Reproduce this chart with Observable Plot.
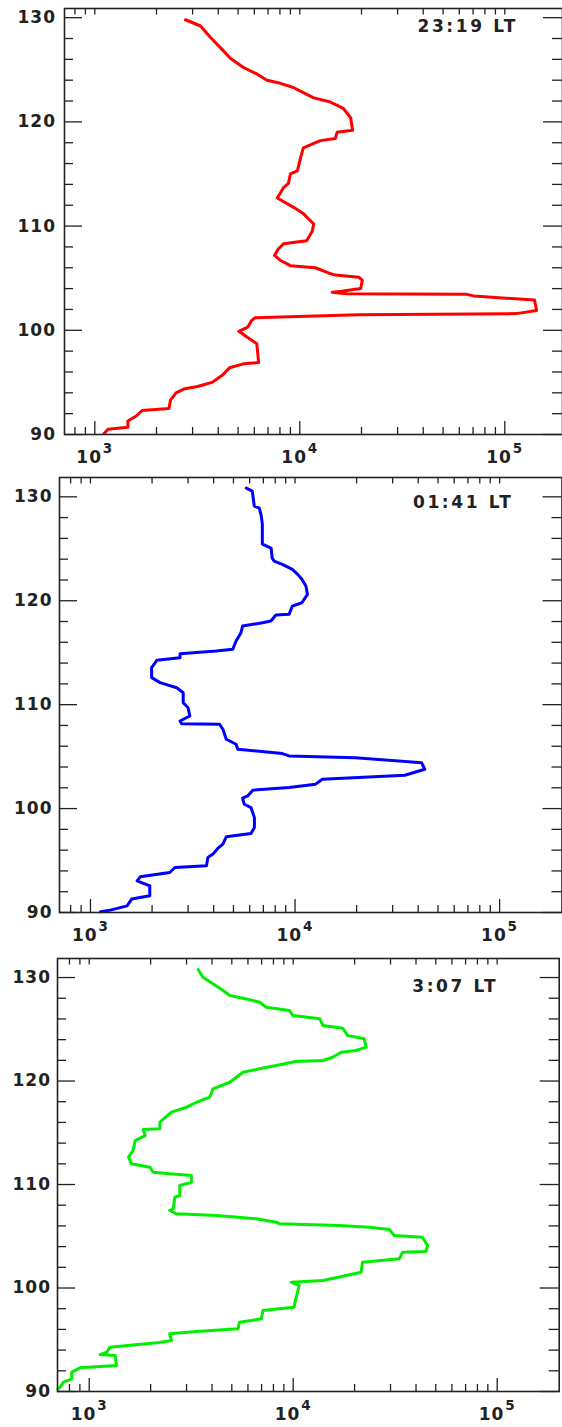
<!DOCTYPE html>
<html><head><meta charset="utf-8">
<script src="https://cdn.jsdelivr.net/npm/d3@7"></script>
<script src="https://cdn.jsdelivr.net/npm/@observablehq/plot@0.6"></script>
<style>
html,body{margin:0;padding:0;background:#fff;}
#chart svg{display:block;}
</style></head><body><div id="chart"></div>
<script>
// Panel 1 (23:19 LT) – altitude (km) and density
const alt1 = [129.8,129.2,128.1,127.1,126.1,125.2,124.6,124.0,123.7,123.3,122.8,122.3,121.9,121.3,120.4,119.2,119.0,118.4,118.2,117.5,116.6,115.3,115.0,114.1,113.7,113.2,112.7,111.8,111.2,110.2,109.5,108.6,108.3,107.8,107.2,106.7,106.2,106.0,105.5,105.3,105.1,104.8,104.0,103.75,103.65,103.5,103.45,103.3,102.9,101.9,101.6,101.5,101.2,100.9,100.3,99.9,99.3,98.7,96.9,96.8,96.4,95.7,95.0,94.6,94.4,94.0,93.3,92.5,92.3,91.8,91.3,90.7,90.5,90.1];
const ne1  = [2770,3280,3670,4110,4580,5330,6170,6920,8040,9310,10400,11700,14100,16300,17700,18100,15200,14900,12600,10400,10100,9730,9000,8800,8330,8050,7760,9330,10400,11700,11500,10800,8330,7850,7530,8050,9010,11900,13800,14900,19400,20200,19800,16000,14400,17000,65200,70500,139600,143000,114000,19400,6040,5800,5570,5040,5570,6170,6300,5360,4540,4200,3730,3170,2750,2490,2340,2300,1700,1600,1450,1450,1160,1110];

// Panel 2 (01:41 LT)
const alt2 = [130.84,130.55,129.11,128.91,128.14,127.37,125.45,125.07,124.11,123.82,123.5,123.02,122.54,122.06,121.41,120.62,119.81,119.49,118.69,118.62,118.05,117.88,117.57,116.92,116.13,115.33,115.16,114.9,114.52,114.27,113.56,112.6,112.12,111.63,111.15,110.19,109.71,108.91,108.43,108.17,108.11,107.63,106.67,106.19,105.71,105.29,105.07,104.9,104.42,103.79,103.21,102.83,102.35,102.02,101.77,101.22,101.0,100.42,100.1,99.13,98.17,97.6,97.28,96.58,96.19,95.62,95.29,94.49,94.33,93.85,93.43,93.05,92.57,91.61,91.29,90.64,90.23,90.07];
const ne2  = [5780,6180,6320,6690,6840,6920,6920,7640,7730,7910,8670,9700,10300,10800,11300,11500,10800,9700,9350,8060,7620,6930,5540,5440,5150,4960,4120,2740,2740,2110,1990,1990,2190,2640,2840,2840,3000,3060,2740,2790,4280,4440,4610,5150,5250,8670,9350,19700,41500,43100,34400,13600,12600,9350,6210,5870,5540,5650,6090,6330,6330,6090,4610,4440,4200,3970,3750,3690,2590,2440,1750,1690,1950,1950,1590,1510,1250,1120];

// Panel 3 (3:07 LT)
const alt3 = [130.77,130.03,129.39,128.74,128.26,128.0,127.62,127.13,126.81,126.33,126.01,125.36,125.1,124.4,124.08,123.27,122.95,122.78,122.3,121.98,121.88,121.5,121.18,120.85,119.88,119.25,118.44,117.95,117.47,116.99,116.02,115.38,115.31,114.73,114.25,113.29,112.64,112.0,111.67,111.19,111.03,110.87,110.22,109.9,108.94,108.77,107.65,107.49,107.17,107.0,106.69,106.36,106.2,106.04,105.87,105.65,105.07,104.91,104.11,103.53,103.46,102.82,102.49,101.53,101.14,100.72,100.56,100.24,98.96,98.14,97.83,97.02,96.7,96.06,95.8,95.57,94.93,94.7,94.28,93.8,93.57,93.48,92.51,92.29,91.87,91.23,90.9,90.42,90.26];
const ne3  = [3420,3610,4040,4530,4890,5680,6840,7380,9590,9970,13500,14000,17500,18500,22300,22800,20300,17200,15600,14000,10300,8260,6840,5680,4890,4040,3900,3360,3000,2530,2220,2220,1840,1880,1680,1640,1560,1610,1980,2060,2480,3170,3170,2780,2780,2630,2580,2480,2680,4200,6590,8260,8570,16800,23600,29600,31300,43000,45600,44700,34400,33100,21900,21500,17500,14000,9770,10700,10300,10100,7110,6980,5450,5370,3360,2480,2530,2140,1260,1220,1130,1340,1360,902,821,821,748,720,702];

// Axis ticks and labels
const xMajor = [1e3, 1e4, 1e5];
const xExp = ["3", "4", "5"];
const xMinor = [800, 900, 2000, 3000, 4000, 5000, 6000, 7000, 8000, 9000, 20000, 30000, 40000, 50000, 60000, 70000, 80000, 90000];
const yMajor = [90, 100, 110, 120, 130];
const yMinor = [92, 94, 96, 98, 102, 104, 106, 108, 112, 114, 116, 118, 122, 124, 126, 128];
const titles = ["23:19 LT", "01:41 LT", "3:07 LT"];
const colors = ["#ff0000", "#0000ff", "#00ee00"];

// Layout per panel
const W = 562;
const layout = [
  {xDomain: [711.5, 191200], yDomain: [90, 130.88], height: 470, mt: 8,  mb: 36, ml: 64, mr: 0,   labDx: -8.5, titleDx: -145, titleDy: 23},
  {xDomain: [705.7, 201800], yDomain: [90, 131.86], height: 476, mt: 7,  mb: 34, ml: 59, mr: 0.5, labDx: -7,   titleDx: -149, titleDy: 30},
  {xDomain: [699,   201400], yDomain: [90, 131.84], height: 481, mt: 12, mb: 36, ml: 57, mr: 3.3, labDx: -6.5, titleDx: -147, titleDy: 33}
];
const series = [[alt1, ne1], [alt2, ne2], [alt3, ne3]];

const ink = "#222";
const font = "'DejaVu Sans', Verdana, sans-serif";
const container = document.getElementById("chart");

series.forEach(([alt, ne], i) => {
  const p = layout[i];
  const data = alt.map((a, j) => ({alt: a, ne: ne[j]}));
  const ph = p.height - p.mt - p.mb;
  const pw = W - p.ml - p.mr;
  const tk = {stroke: ink, strokeWidth: 1.3};
  const chart = Plot.plot({
    width: W, height: p.height,
    marginTop: p.mt, marginBottom: p.mb, marginLeft: p.ml, marginRight: p.mr,
    x: {type: "log", domain: p.xDomain, axis: null},
    y: {domain: p.yDomain, axis: null},
    style: {fontFamily: font, fontWeight: "bold", letterSpacing: "1px", color: ink, background: "#fff", overflow: "visible"},
    marks: [
      Plot.line(data, {x: "ne", y: "alt", stroke: colors[i], strokeWidth: 3, strokeLinejoin: "round"}),
      // bottom ticks
      Plot.tickX(xMajor, {x: d => d, insetTop: ph - 13, ...tk}),
      Plot.tickX(xMinor, {x: d => d, insetTop: ph - 7, ...tk}),
      // top ticks
      Plot.tickX(xMajor.concat(xMinor), {x: d => d, insetBottom: ph - 6.5, ...tk}),
      // left ticks
      Plot.tickY(yMajor, {y: d => d, insetRight: pw - 18, ...tk}),
      Plot.tickY(yMinor, {y: d => d, insetRight: pw - 9, ...tk}),
      // right ticks
      Plot.tickY(yMajor, {y: d => d, insetLeft: pw - 19, ...tk}),
      Plot.tickY(yMinor, {y: d => d, insetLeft: pw - 10, ...tk}),
      Plot.frame({stroke: ink, strokeWidth: 1.6}),
      // y tick labels
      Plot.text(yMajor, {y: d => d, text: d => String(d), frameAnchor: "left", textAnchor: "end", dx: p.labDx, fontSize: 17, fill: ink}),
      // x tick labels: 10 with superscript exponent
      Plot.text(xMajor, {x: d => d, text: () => "10", frameAnchor: "bottom", textAnchor: "start", lineAnchor: "bottom", dx: -18.5, dy: 28, fontSize: 17, fill: ink}),
      Plot.text(xMajor, {x: d => d, text: d => xExp[xMajor.indexOf(d)], frameAnchor: "bottom", textAnchor: "start", lineAnchor: "bottom", dx: 8, dy: 18.5, fontSize: 13.5, fill: ink}),
      // panel title
      Plot.text([titles[i]], {text: d => d, frameAnchor: "top-right", textAnchor: "start", lineAnchor: "bottom", dx: p.titleDx, dy: p.titleDy, fontSize: 17, fill: ink, style: {letterSpacing: "2.6px"}})
    ]
  });
  chart.querySelectorAll("g[aria-label='text']").forEach(g => {
    if (g.textContent.includes("LT")) g.setAttribute("letter-spacing", "2.6px");
  });
  container.appendChild(chart);
});
</script>
</body></html>
